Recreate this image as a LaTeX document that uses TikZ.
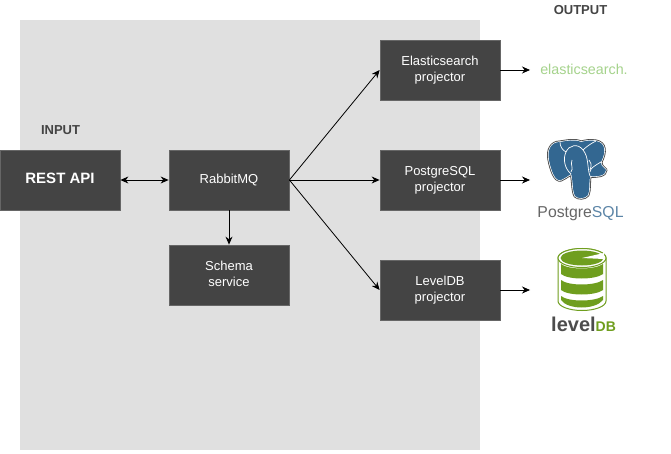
\documentclass[tikz,border=0pt]{standalone}
\usepackage{fontspec}
\setmainfont{Liberation Sans}
\usetikzlibrary{arrows.meta}
\definecolor{boxfill}{HTML}{444444}
\definecolor{boxline}{HTML}{666666}
\definecolor{panel}{HTML}{E0E0E0}
\definecolor{pgblue}{HTML}{336791}
\definecolor{ldbgreen}{HTML}{6F9E1E}
\definecolor{esgreen}{HTML}{A5D38C}
\newcommand{\elephantpath}{(560,142) .. controls (551,142) and (547,150) .. (549,160)
  .. controls (551,170) and (555,182) .. (561,180)
  .. controls (565,178) and (568,176) .. (571,174)
  .. controls (573,178) and (572,190) .. (575,196)
  .. controls (578,199) and (585,199) .. (588,195)
  .. controls (590,190) and (589,182) .. (590,176)
  .. controls (596,177) and (606,176) .. (606,170)
  .. controls (604,167) and (601,167) .. (601,162)
  .. controls (606,152) and (606,143) .. (596,141)
  .. controls (590,140) and (585,141) .. (581,142)
  .. controls (574,139) and (567,141) .. (560,142) -- cycle}
\tikzset{
  x=1pt,y=-1pt,
  svc/.style={draw=boxline,fill=boxfill,text=white,minimum width=120pt,minimum height=60pt,
    inner sep=0pt,align=center,font=\fontsize{13}{16}\selectfont,line width=.8pt,
    execute at begin node={\rule{0pt}{10pt}},
    execute at end node={\rule[-3pt]{0pt}{3pt}}},
  head/.style={font=\fontsize{13}{14}\selectfont\bfseries,text=boxfill,inner sep=0pt},
  link/.style={-{Stealth[length=8pt,width=7pt]},line width=.8pt,black},
  both/.style={{Stealth[length=8pt,width=7pt]}-{Stealth[length=8pt,width=7pt]},line width=.8pt,black},
}
\begin{document}
\begin{tikzpicture}
\useasboundingbox (0,0) rectangle (671,454);
\fill[white] (0,0) rectangle (671,454);
\fill[panel] (20,20) rectangle (480,450);

\node[svc,font=\fontsize{15}{16}\selectfont\bfseries] (rest) at (60,180) {REST API};
\node[svc] (rabbit) at (229,180) {RabbitMQ};
\node[svc] (schema) at (229,275) {Schema\\service};
\node[svc] (es) at (440,70) {Elasticsearch\\projector};
\node[svc] (pg) at (440,180) {PostgreSQL\\projector};
\node[svc] (ldb) at (440,290) {LevelDB\\projector};

\node[head] (input) at (60.5,130) {INPUT};
\node[head] (output) at (580.5,10) {OUTPUT};

\coordinate (esout) at (530,70);
\coordinate (pgout) at (530,180);
\coordinate (ldbout) at (530,290);

\draw[both] (rest.east) -- (rabbit.west);
\draw[link] (rabbit.south) -- (schema.north);
\draw[link] (rabbit.east) -- (es.west);
\draw[link] (rabbit.east) -- (pg.west);
\draw[link] (rabbit.east) -- (ldb.west);
\draw[link] (es.east) -- (esout);
\draw[link] (pg.east) -- (pgout);
\draw[link] (ldb.east) -- (ldbout);

% elasticsearch logo
\node[text=esgreen,inner sep=0pt,font=\fontsize{14.3}{16}\selectfont] (eslogo) at (584,69) {elasticsearch.};

% PostgreSQL logo
\draw[black!75,line width=3pt,line join=round] \elephantpath;
\draw[white,line width=1.4pt,line join=round] \elephantpath;
\fill[pgblue] \elephantpath;
\draw[white,line width=.7pt]
  (571,174) .. controls (564,168) and (563,158) .. (566,152)
  .. controls (569,145) and (578,143) .. (583,150)
  .. controls (589,157) and (587,168) .. (590,176);
\draw[white,line width=.7pt]
  (566,152) .. controls (562,150) and (560,146) .. (560,142)
  (583,150) .. controls (587,146) and (592,143) .. (596,141)
  (590,172) .. controls (590,168) and (596,165) .. (601,162);
\draw[white,line width=.7pt] (572,160) .. controls (570,165) and (574,168) .. (571,172);
\draw[white,line width=.7pt] (589,160) .. controls (591,162) and (592,165) .. (590,170);
\node[inner sep=0pt,font=\fontsize{15.8}{16}\selectfont] (pglogo) at (580.5,214)
  {\textcolor{black!60}{Postgre}\textcolor{pgblue!80}{SQL}};

% LevelDB logo
\draw[ldbgreen,line width=1pt,fill=white]
  (558,258) arc[x radius=24,y radius=9.5,start angle=180,end angle=360]
  -- (606,301) arc[x radius=24,y radius=9.5,start angle=0,end angle=180] -- cycle;
\fill[white,draw=ldbgreen,line width=1pt] (582,258) ellipse[x radius=24,y radius=9.5];
\fill[ldbgreen] (582,258) ellipse[x radius=21.5,y radius=7.5];
\fill[white] (582,258) -- (604,253) -- (604,259) -- cycle;
\fill[ldbgreen]
  (561,264) .. controls (568,270) and (595,270) .. (603,264)
  -- (603,274) .. controls (595,280) and (568,280) .. (561,274) -- cycle;
\fill[ldbgreen]
  (561,280) .. controls (568,286) and (595,286) .. (603,280)
  -- (603,290) .. controls (595,296) and (568,296) .. (561,290) -- cycle;
\fill[ldbgreen]
  (561,296) .. controls (568,302) and (595,302) .. (603,296)
  -- (603,300) .. controls (595,310) and (568,310) .. (561,300) -- cycle;
\node[anchor=base west,inner sep=0pt] (ldblogo) at (551,331)
  {\fontsize{20}{20}\selectfont\bfseries\textcolor{black!70}{level}\textcolor{ldbgreen}{\fontsize{14}{14}\selectfont DB}};
\end{tikzpicture}
\end{document}
